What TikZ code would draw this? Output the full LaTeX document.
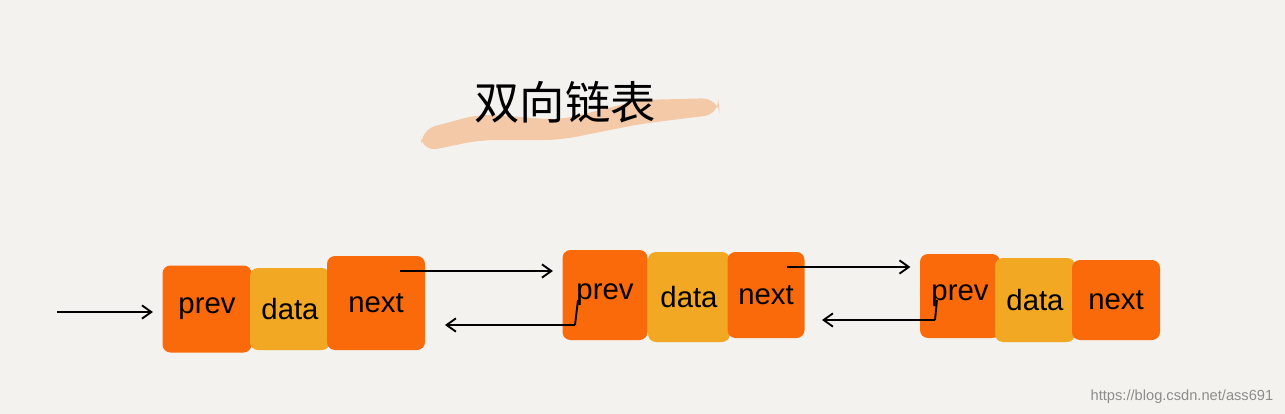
\documentclass[tikz,border=0pt]{standalone}
\usepackage{fontspec}
\setmainfont{Liberation Sans}
\newfontfamily\cjk{Noto Sans CJK SC}
\definecolor{bg}{HTML}{F4F2EE}
\definecolor{dor}{HTML}{FA6A0A}
\definecolor{lor}{HTML}{F2A822}
\definecolor{brush}{HTML}{F4C9A8}
\tikzset{
 cell/.style={rounded corners=6pt,inner sep=0pt,font=\fontsize{22}{24}\selectfont},
 arr/.style={->,line width=1.4pt,shorten >=7pt,>={Straight Barb[length=7pt,width=10pt]}}
}
\usetikzlibrary{arrows.meta}
\begin{document}
\begin{tikzpicture}[x=0.75pt,y=-0.75pt]
\fill[bg] (0,0) rectangle (1285,414);
\useasboundingbox (0,0) rectangle (1285,414);
\fill[brush,rounded corners=12pt] (420,130) -- (480,114) -- (560,120) -- (640,100) -- (718,98) -- (720,114) -- (640,124) -- (560,140) -- (480,140) -- (422,152) -- cycle;
\node[font=\cjk\fontsize{34}{36}\selectfont] (title) at (565,102) {双向链表};
% node 1
\node[cell,fill=dor,minimum width=89*0.75pt,minimum height=87*0.75pt] (p1) at (207,309) {prev};
\node[cell,fill=lor,minimum width=80*0.75pt,minimum height=82*0.75pt] (d1) at (290,309) {data};
\node[cell,fill=dor,minimum width=98*0.75pt,minimum height=94*0.75pt] (n1) at (376,303) {next};
% node 2
\node[cell,fill=dor,minimum width=85*0.75pt,minimum height=90*0.75pt] (p2) at (605,295) {prev};
\node[cell,fill=lor,minimum width=82*0.75pt,minimum height=90*0.75pt] (d2) at (689,297) {data};
\node[cell,fill=dor,minimum width=77*0.75pt,minimum height=86*0.75pt] (n2) at (766,295) {next};
% node 3
\node[cell,fill=dor,minimum width=80*0.75pt,minimum height=84*0.75pt] (p3) at (960,296) {prev};
\node[cell,fill=lor,minimum width=80*0.75pt,minimum height=84*0.75pt] (d3) at (1035,300) {data};
\node[cell,fill=dor,minimum width=88*0.75pt,minimum height=80*0.75pt] (n3) at (1116,300) {next};
% arrows
\coordinate (s0) at (57,312);
\draw[arr] (s0) -- (p1.west |- s0);
\draw[arr] (400,271) -- (p2.west |- 0,271);
\draw[arr,shorten >=0pt] (575,325) -- (445,325);
\draw[line width=1.4pt] (575,325) -- (578,300);
\draw[arr] (787,267) -- (p3.west |- 0,267);
\draw[arr,shorten >=0pt] (935,320) -- (822,320);
\draw[line width=1.4pt] (935,320) -- (937,300);
\node[anchor=east,text=black!45,font=\fontsize{11}{12}\selectfont] (wm) at (1278,397) {https://blog.csdn.net/ass691};
\end{tikzpicture}
\end{document}
